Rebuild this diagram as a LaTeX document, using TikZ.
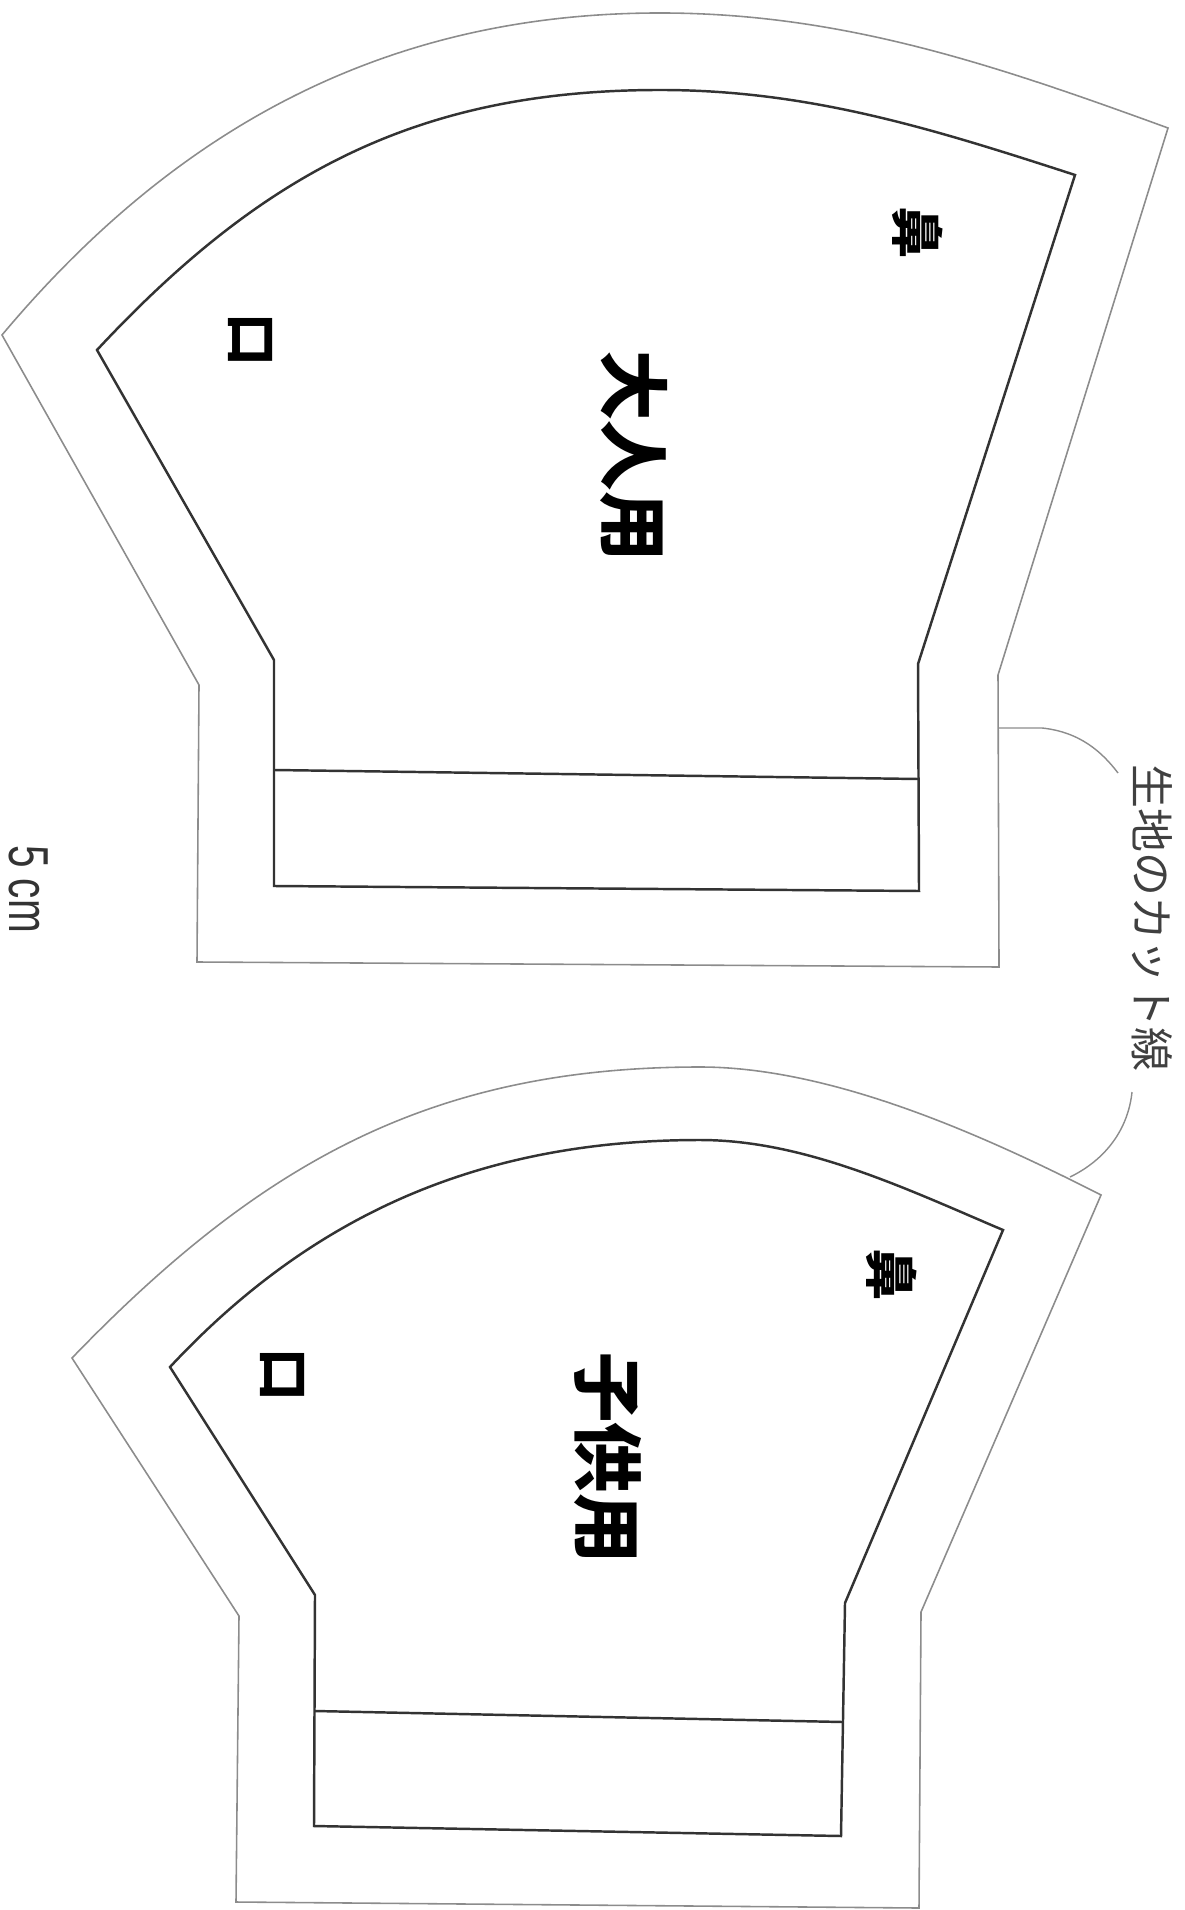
\documentclass[tikz,border=0pt]{standalone}
\usepackage{fontspec}
\setmainfont{Liberation Sans}
\newfontfamily\jpfont{Noto Sans CJK JP}

\begin{document}
\begin{tikzpicture}[x=0.01cm,y=-0.01cm,
    cutline/.style={draw=black!45,line width=0.45pt},
    sewline/.style={draw=black!80,line width=0.7pt},
    leadline/.style={draw=black!45,line width=0.4pt},
    bigtag/.style={font=\jpfont\bfseries\fontsize{20}{24}\selectfont,rotate=-90,inner sep=0pt},
    smalltag/.style={font=\jpfont\bfseries\fontsize{15}{18}\selectfont,rotate=-90,inner sep=0pt},
    notetag/.style={font=\jpfont\fontsize{12.5}{15}\selectfont,text=black!75,rotate=-90,inner sep=0pt},
    scaletag/.style={font=\fontsize{16}{18}\selectfont,text=black!80,rotate=-90,inner sep=0pt}]
  \useasboundingbox (0,0) rectangle (1184,1910);

  % adult pattern
  \draw[cutline] (2,335) to[out=50,in=180,looseness=0.95] (660,13) to[out=0,in=160,looseness=0.9] (1168,128)
    -- (998,675) -- (999,967) -- (197,962) -- (199,685) -- cycle;
  \draw[sewline] (97,350) to[out=47,in=180] (660,90) to[out=0,in=162,looseness=0.9] (1075,175)
    -- (918,664) -- (919,891) -- (274,886) -- (274,660) -- cycle;
  \draw[sewline] (274,770) -- (918,779);

  % child pattern
  \draw[cutline] (72,1358) to[out=46,in=180] (700,1067) to[out=0,in=153,looseness=0.8] (1101,1195)
    -- (921,1612) -- (919,1908) -- (236,1902) -- (239,1616) -- cycle;
  \draw[sewline] (170,1367) to[out=47,in=180,looseness=0.95] (700,1140) to[out=0,in=157,looseness=0.85] (1003,1230)
    -- (845,1603) -- (841,1836) -- (314,1826) -- (315,1595) -- cycle;
  \draw[sewline] (315,1711) -- (843,1722);

  % labels
  \node[bigtag] (adult) at (634,456) {大人用};
  \node[smalltag] (nose1) at (918,233) {鼻};
  \node[smalltag] (mouth1) at (251,340) {口};
  \node[bigtag] (child) at (608,1458) {子供用};
  \node[smalltag] (nose2) at (892,1275) {鼻};
  \node[smalltag] (mouth2) at (283,1375) {口};
  \node[notetag] (cutlabel) at (1152,918) {生地のカット線};
  \node[scaletag] (scale) at (29,889) {\scalebox{0.72}[1]{5 cm}};

  % leaders to the cut lines
  \coordinate (cut1) at (998,728);
  \coordinate (cut2) at (1070,1177);
  \coordinate (lead1) at (1118,773);
  \coordinate (lead2) at (1132,1092);
  \draw[leadline] (cut1) -- ++(44,0) .. controls (1080,732) and (1102,752) .. (lead1);
  \draw[leadline] (lead2) .. controls (1128,1130) and (1105,1160) .. (cut2);
\end{tikzpicture}
\end{document}
